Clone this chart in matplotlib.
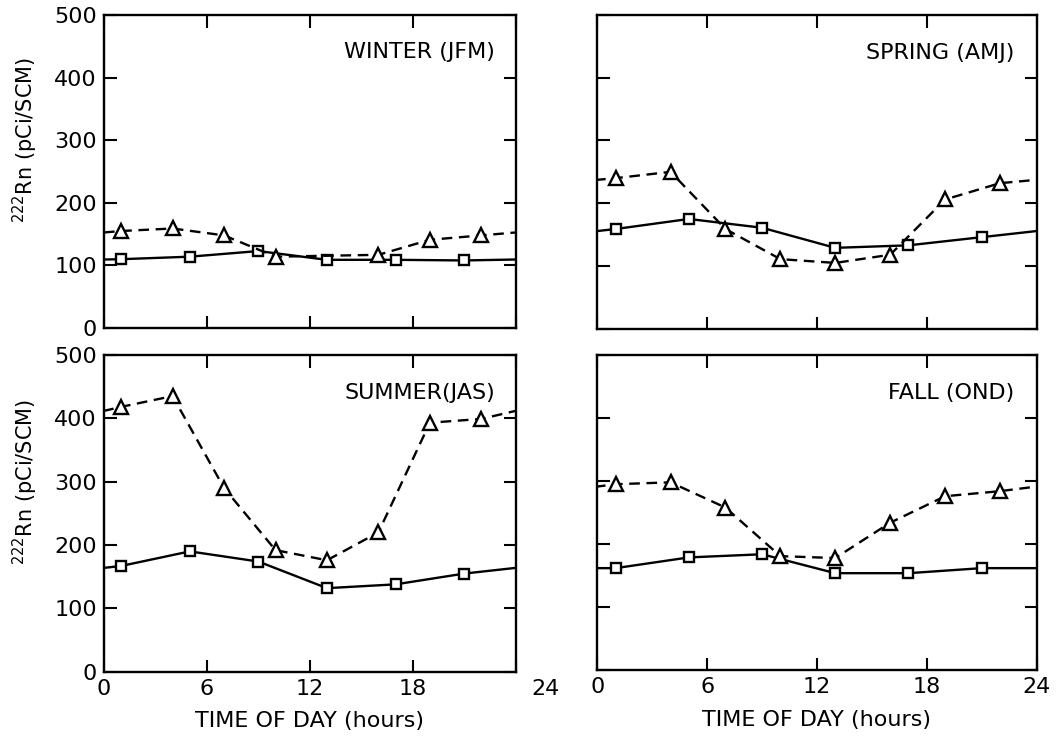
import matplotlib
matplotlib.use('Agg')
import matplotlib.pyplot as plt
import matplotlib.transforms as mtransforms

# hours of the plotted points
sq_hours = [1, 5, 9, 13, 17, 21]
tri_hours = [1, 4, 7, 10, 13, 16, 19, 22]
tri_hours_winter = [1, 4, 7, 10, 16, 19, 22]

# squares (solid line)
winter_sq = [110, 114, 123, 109, 109, 108]
spring_sq = [159, 175, 161, 129, 133, 146]
summer_sq = [167, 190, 174, 132, 138, 155]
fall_sq = [162, 179, 184, 154, 154, 162]

# triangles (dashed line)
winter_tri = [155, 159, 148, 114, 117, 141, 148]
spring_tri = [240, 250, 159, 111, 105, 118, 206, 232]
summer_tri = [418, 435, 290, 192, 176, 220, 393, 399]
fall_tri = [295, 298, 258, 181, 178, 234, 276, 284]

titles = ["WINTER (JFM)", "SPRING (AMJ)", "SUMMER(JAS)", "FALL (OND)"]
x_ticks = [0, 6, 12, 18, 24]
y_ticks = [0, 100, 200, 300, 400, 500]


def wrap(h, v):
    # diurnal cycle: tie the ends to the next/previous day
    return [h[-1] - 24] + list(h) + [h[0] + 24], [v[-1]] + list(v) + [v[0]]


fig = plt.figure(figsize=(10.61, 7.44), dpi=100)
boxes = [
    [0.098, 0.559, 0.388, 0.421],
    [0.563, 0.558, 0.414, 0.422],
    [0.098, 0.097, 0.388, 0.426],
    [0.563, 0.099, 0.414, 0.424],
]
panels = [
    (tri_hours_winter, winter_tri, winter_sq),
    (tri_hours, spring_tri, spring_sq),
    (tri_hours, summer_tri, summer_sq),
    (tri_hours, fall_tri, fall_sq),
]

for i, (box, (th, tv, sv)) in enumerate(zip(boxes, panels)):
    ax = fig.add_axes(box)
    hx, hy = wrap(sq_hours, sv)
    ax.plot(hx, hy, color='black', lw=1.7, solid_capstyle='butt')
    ax.plot(sq_hours, sv, ls='none', marker='s', ms=7, mfc='white',
            mec='black', mew=1.7)
    tx, ty = wrap(th, tv)
    ax.plot(tx, ty, color='black', lw=1.7, ls=(0, (4.5, 2.8)))
    ax.plot(th, tv, ls='none', marker='^', ms=10, mfc='white',
            mec='black', mew=1.7)

    ax.set_xlim(0, 24)
    ax.set_ylim(0, 500)
    ax.set_xticks(x_ticks)
    ax.set_yticks(y_ticks)
    ax.tick_params(direction='in', length=9, width=1.5, top=True, right=True,
                   labelsize=16, pad=5)
    for s in ax.spines.values():
        s.set_linewidth(1.7)
    ax.text(0.95, 0.88, titles[i], transform=ax.transAxes, ha='right',
            va='center', fontsize=16)

    if i % 2 == 0:
        ax.set_ylabel(r"$^{222}$Rn (pCi/SCM)", fontsize=15)
        ax.yaxis.set_label_coords(-0.155, 0.60)
    else:
        ax.set_yticklabels([])
    if i < 2:
        ax.set_xticklabels([])
    else:
        ax.set_xlabel("TIME OF DAY (hours)", fontsize=16, labelpad=9)
        if i == 2:
            lab = ax.get_xticklabels()[-1]
            lab.set_transform(lab.get_transform() +
                              mtransforms.ScaledTranslation(0.3, 0, fig.dpi_scale_trans))

fig.savefig("out.png", dpi=100)
